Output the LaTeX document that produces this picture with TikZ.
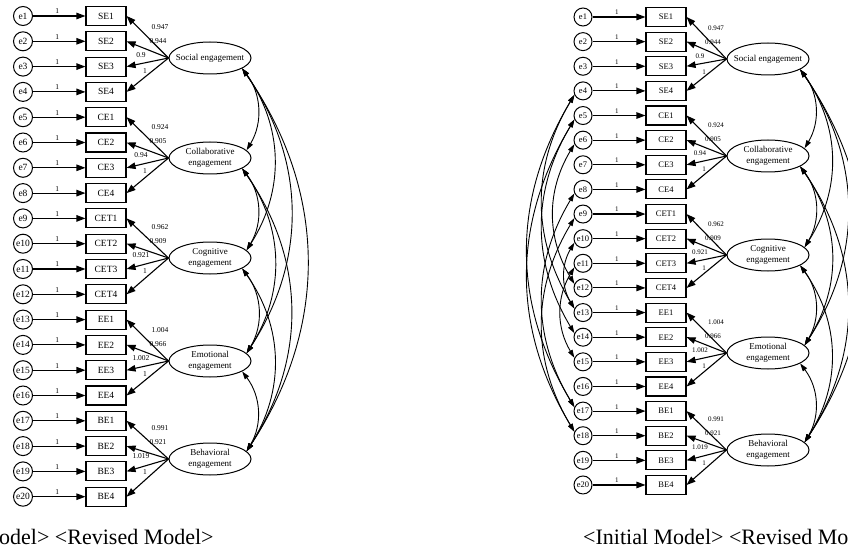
\documentclass[tikz,border=0pt]{standalone}
\usepackage{fontspec}
\setmainfont{Liberation Serif}
\usetikzlibrary{arrows.meta,shapes.geometric}
\tikzset{
  err/.style={circle,draw,line width=1pt,minimum size=19pt,inner sep=0pt,font=\fontsize{9.5}{10}\selectfont},
  ind/.style={rectangle,draw,line width=1.1pt,minimum width=40pt,minimum height=19pt,inner sep=0pt,font=\fontsize{9.5}{10}\selectfont},
  fac/.style={ellipse,draw,line width=1pt,minimum width=82pt,minimum height=32pt,inner sep=0pt},
  ftxt/.style={font=\fontsize{9}{11}\selectfont,align=center,inner sep=0pt},
  arr/.style={line width=1.1pt,-{Triangle[length=9pt,width=6.5pt]}},
  cov/.style={line width=0.9pt,{Triangle[length=8pt,width=5pt]}-{Triangle[length=8pt,width=5pt]}},
  lab/.style={font=\fontsize{7.5}{8}\selectfont,inner sep=0.5pt},
  labr/.style={font=\fontsize{7}{8}\selectfont,inner sep=0.5pt},
  captxt/.style={font=\fontsize{22}{24}\selectfont,inner sep=0pt,anchor=base west},
}
\begin{document}
\begin{tikzpicture}[x=1pt,y=-1pt]
\useasboundingbox (0,0) rectangle (848,548);
\clip (0,0) rectangle (848,548);
% ---------------- left panel ----------------
\foreach \n [count=\i] in {SE1,SE2,SE3,SE4,CE1,CE2,CE3,CE4,CET1,CET2,CET3,CET4,EE1,EE2,EE3,EE4,BE1,BE2,BE3,BE4}{
  \pgfmathsetmacro\yy{16+25.3*(\i-1)}
  \node[err] (eL\i) at (23,\yy) {e\i};
  \node[ind] (vL\i) at (106,\yy) {\n};
  \draw[arr] (eL\i) -- node[lab,above=1pt,xshift=-2pt]{1} (vL\i);
}
\node[fac] (FL1) at (210,58) {};
\node[fac] (FL2) at (210,158) {};
\node[fac] (FL3) at (210,258) {};
\node[fac] (FL4) at (210,361) {};
\node[fac] (FL5) at (210,459) {};
\node[ftxt] (tL1) at (FL1) {Social engagement};
\node[ftxt] (tL2) at (FL2) {Collaborative\\engagement};
\node[ftxt] (tL3) at (FL3) {Cognitive\\engagement};
\node[ftxt] (tL4) at (FL4) {Emotional\\engagement};
\node[ftxt] (tL5) at (FL5) {Behavioral\\engagement};
\foreach \k/\a/\b/\c/\d in {1/0.947/0.944/0.9/1,2/0.924/0.905/0.94/1,3/0.962/0.909/0.921/1,4/1.004/0.966/1.002/1,5/0.991/0.921/1.019/1}{
  \pgfmathtruncatemacro\ia{4*(\k-1)+1}
  \pgfmathtruncatemacro\ib{4*(\k-1)+2}
  \pgfmathtruncatemacro\ic{4*(\k-1)+3}
  \pgfmathtruncatemacro\id{4*(\k-1)+4}
  \draw[arr] (FL\k.west) -- (vL\ia.east);
  \draw[arr] (FL\k.west) -- (vL\ib.east);
  \draw[arr] (FL\k.west) -- (vL\ic.east);
  \draw[arr] (FL\k.west) -- (vL\id.east);
  \node[lab] at ([shift={(-50,-31)}]FL\k.center) {\a};
  \node[lab] at ([shift={(-52,-17)}]FL\k.center) {\b};
  \node[lab] at ([shift={(-69,-3)}]FL\k.center) {\c};
  \node[lab] at ([shift={(-65,13)}]FL\k.center) {\d};
}
\foreach \a/\b in {1/2,1/3,1/4,1/5,2/3,2/4,2/5,3/4,3/5,4/5}{
  \draw[cov] (FL\a.-18) to[bend left=34] (FL\b.12);
}
% ---------------- right panel ----------------
\foreach \n [count=\i] in {SE1,SE2,SE3,SE4,CE1,CE2,CE3,CE4,CET1,CET2,CET3,CET4,EE1,EE2,EE3,EE4,BE1,BE2,BE3,BE4}{
  \pgfmathsetmacro\yy{17+24.63*(\i-1)}
  \node[err,minimum size=18pt,font=\fontsize{8.5}{9}\selectfont] (eR\i) at (583,\yy) {e\i};
  \node[ind,font=\fontsize{8.5}{9}\selectfont] (vR\i) at (666,\yy) {\n};
  \draw[arr] (eR\i) -- node[labr,above=1pt,xshift=-2pt]{1} (vR\i);
}
\node[fac] (FR1) at (768,59) {};
\node[fac] (FR2) at (768,156) {};
\node[fac] (FR3) at (768,255) {};
\node[fac] (FR4) at (768,353) {};
\node[fac] (FR5) at (768,450) {};
\node[ftxt] (tR1) at (FR1) {Social engagement};
\node[ftxt] (tR2) at (FR2) {Collaborative\\engagement};
\node[ftxt] (tR3) at (FR3) {Cognitive\\engagement};
\node[ftxt] (tR4) at (FR4) {Emotional\\engagement};
\node[ftxt] (tR5) at (FR5) {Behavioral\\engagement};
\foreach \k/\a/\b/\c/\d in {1/0.947/0.944/0.9/1,2/0.924/0.905/0.94/1,3/0.962/0.909/0.921/1,4/1.004/0.966/1.002/1,5/0.991/0.921/1.019/1}{
  \pgfmathtruncatemacro\ia{4*(\k-1)+1}
  \pgfmathtruncatemacro\ib{4*(\k-1)+2}
  \pgfmathtruncatemacro\ic{4*(\k-1)+3}
  \pgfmathtruncatemacro\id{4*(\k-1)+4}
  \draw[arr] (FR\k.west) -- (vR\ia.east);
  \draw[arr] (FR\k.west) -- (vR\ib.east);
  \draw[arr] (FR\k.west) -- (vR\ic.east);
  \draw[arr] (FR\k.west) -- (vR\id.east);
  \node[labr] at ([shift={(-52,-31)}]FR\k.center) {\a};
  \node[labr] at ([shift={(-55,-17)}]FR\k.center) {\b};
  \node[labr] at ([shift={(-68,-3)}]FR\k.center) {\c};
  \node[labr] at ([shift={(-64,13)}]FR\k.center) {\d};
}
\foreach \a/\b in {1/2,1/3,1/4,1/5,2/3,2/4,2/5,3/4,3/5,4/5}{
  \draw[cov] (FR\a.-18) to[bend left=34] (FR\b.12);
}
\foreach \a/\b in {4/13,4/17,5/14,5/18,6/12,8/17,9/18,10/13,11/15}{
  \draw[cov] (eR\a.205) to[bend right=31] (eR\b.155);
}
% ---------------- captions ----------------
\node[captxt] (c1) at (-1,544) {odel> <Revised Model>};
\node[captxt] (c2) at (583,544) {<Initial Model> <Revised Mo};
\end{tikzpicture}
\end{document}
